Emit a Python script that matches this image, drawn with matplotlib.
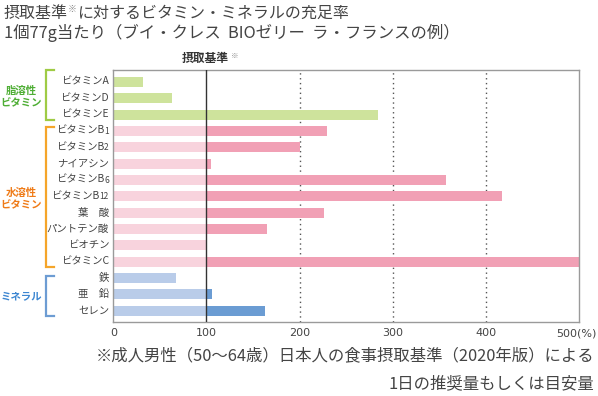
import numpy as np
import matplotlib
matplotlib.use("Agg")
import matplotlib.pyplot as plt
from matplotlib.lines import Line2D
from matplotlib.transforms import offset_copy

plt.rcParams["font.family"] = ["Noto Sans CJK JP", "DejaVu Sans"]

# ── Data ──────────────────────────────────────────────────────────────────────
labels = ["ビタミンA", "ビタミンD", "ビタミンE",
          "ビタミンB", "ビタミンB", "ナイアシン", "ビタミンB", "ビタミンB",
          "葉　酸", "パントテン酸", "ビオチン", "ビタミンC",
          "鉄", "亜　鉛", "セレン"]
label_subs = ["", "", "", "1", "2", "", "6", "12", "", "", "", "", "", "", ""]
values = [32, 63, 284,
          229, 200, 105, 357, 417, 226, 165, 100, 500,
          67, 106, 163]
groups = ["fat"] * 3 + ["water"] * 9 + ["mineral"] * 3
xticks = [0, 100, 200, 300, 400, 500]

# ── Style ─────────────────────────────────────────────────────────────────────
W, H = 598, 396
light = {"fat": "#cee39c", "water": "#f8d3dd", "mineral": "#b9cce9"}
dark = {"fat": "#cee39c", "water": "#f1a0b5", "mineral": "#6b9cd3"}
bracket_col = {"fat": "#9fcb45", "water": "#f5a52a", "mineral": "#6d9cd3"}
text_col = {"fat": "#4fae35", "water": "#ef7b18", "mineral": "#3c86d1"}
txt = "#444444"


def fx(px):
    return px / W


def fy(py):
    return 1 - py / H


fig = plt.figure(figsize=(W / 100, H / 100), dpi=100)
ax = fig.add_axes([fx(113.3), fy(321.7), fx(579) - fx(113.3), fy(70) - fy(321.7)])

y = np.arange(len(labels))
vals = np.array(values, dtype=float)
base = np.minimum(vals, 100)
extra = np.clip(vals - 100, 0, None)

ax.barh(y, base, height=0.62, color=[light[g] for g in groups], zorder=2)
ax.barh(y, extra, left=100, height=0.62, color=[dark[g] for g in groups], zorder=2)

ax.set_xlim(0, 500)
ax.set_ylim(len(labels) - 1 + 0.67, -0.73)

for gx in [200, 300, 400]:
    ax.axvline(gx, color="#555555", lw=1.0, ls=(0, (1, 2.5)), zorder=1)
ax.axvline(100, color="#333333", lw=1.0, zorder=3)

for s in ax.spines.values():
    s.set_color("#9a9a9a")
    s.set_linewidth(1.0)

# last tick gets its "(%)" unit, drawn as one label left of the 500 position
ax.set_xticks(xticks)
tick_txt = [str(t) for t in xticks]
tick_txt[-1] = ""
ax.set_xticklabels(tick_txt, fontsize=8, color=txt, family=["DejaVu Sans"])
ax.tick_params(axis="x", length=0, pad=4.5)
ax.set_yticks([])
fig.text(fx(556), fy(333), f"{xticks[-1]}(%)", fontsize=8, color=txt,
         ha="left", va="center", family=["DejaVu Sans"])

# category labels (with small suffix for B1, B2, ...)
for yi, lab, sub in zip(y, labels, label_subs):
    if sub:
        sub_w = 3.6 * len(sub)
        tr = offset_copy(ax.transData, fig=fig, x=-sub_w, y=0, units="points")
        t = ax.text(-4.5, yi, lab, transform=tr, fontsize=7.5,
                    color=txt, ha="right", va="center")
        ax.annotate(sub, xy=(1, 0), xycoords=t, fontsize=6, color=txt,
                    ha="left", va="bottom", annotation_clip=False)
    else:
        ax.text(-4.5, yi, lab, fontsize=7.5, color=txt, ha="right", va="center")

# header over the 100 line
fig.text(fx(182), fy(58), "摂取基準", fontsize=8.5, fontweight="bold",
         color="#333333", ha="left", va="center")
fig.text(fx(231), fy(56), "※", fontsize=5.5, color="#888888", ha="left", va="center")

# group brackets and labels
brackets = [("fat", 70, 120, ["脂溶性", "ビタミン"], 97),
            ("water", 127, 267, ["水溶性", "ビタミン"], 199),
            ("mineral", 276, 316, ["ミネラル"], 296)]
for g, top, bot, lines, ymid in brackets:
    c = bracket_col[g]
    xv, xe = 45.5, 53.5
    fig.add_artist(Line2D([fx(xe), fx(xv), fx(xv), fx(xe)],
                          [fy(top), fy(top), fy(bot), fy(bot)],
                          color=c, lw=1.6, solid_joinstyle="miter"))
    fig.text(fx(21), fy(ymid), "\n".join(lines), fontsize=7.5, fontweight="bold",
             color=text_col[g], ha="center", va="center", linespacing=1.25)

# titles
fig.text(fx(4), fy(13), "摂取基準", fontsize=11.5, color=txt,
         ha="left", va="center")
fig.text(fx(68), fy(9), "※", fontsize=6.5, color="#888888",
         ha="left", va="center")
fig.text(fx(77), fy(13), "に対するビタミン・ミネラルの充足率", fontsize=11.5,
         color=txt, ha="left", va="center")
fig.text(fx(4), fy(33), "1個77g当たり（ブイ・クレス  BIOゼリー  ラ・フランスの例）",
         fontsize=11.8, color=txt, ha="left", va="center")

# footnote
fig.text(fx(594), fy(356), "※成人男性（50〜64歳）日本人の食事摂取基準（2020年版）による",
         fontsize=11.8, color=txt, ha="right", va="center")
fig.text(fx(594), fy(384), "1日の推奨量もしくは目安量", fontsize=11.8, color=txt,
         ha="right", va="center")

fig.savefig("out.png", dpi=100)
